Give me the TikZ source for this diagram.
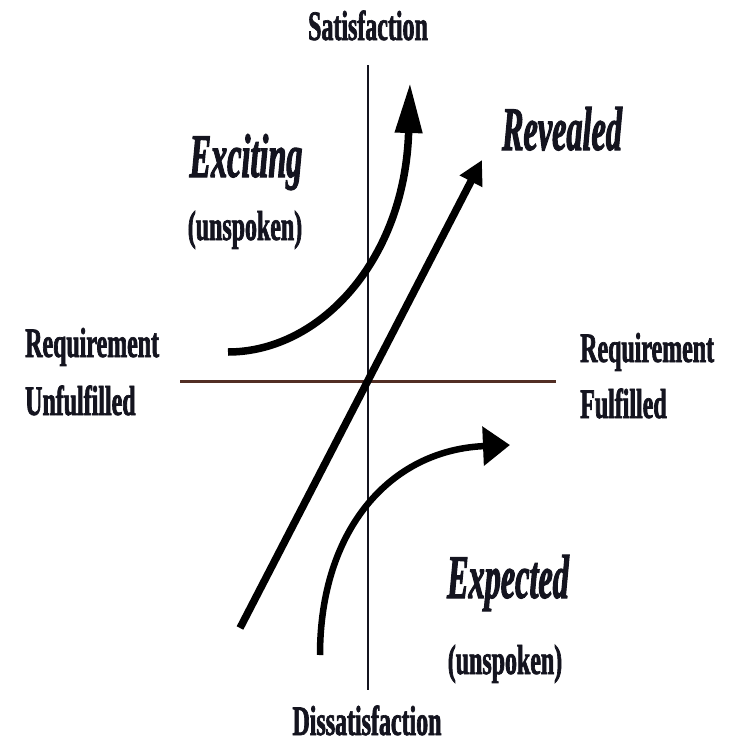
\documentclass[tikz,border=0pt]{standalone}
\usepackage{fontspec}
\usetikzlibrary{arrows.meta}
\newfontfamily\labfont[FakeStretch=0.57,FakeBold=1.6]{Liberation Serif}
\newfontfamily\catfont[FakeStretch=0.52,FakeBold=1.6]{Liberation Serif}
\definecolor{ink}{rgb}{0.08,0.08,0.12}
\definecolor{axisbrown}{rgb}{0.32,0.18,0.14}
\tikzset{
  lab/.style={inner sep=0pt, anchor=base, text=ink, font=\labfont\fontsize{42}{46}\selectfont\bfseries},
  cat/.style={inner sep=0pt, anchor=base, text=ink, font=\catfont\fontsize{62}{66}\selectfont\bfseries\itshape},
  curve/.style={line width=7.5pt, draw=black},
}
\begin{document}
\begin{tikzpicture}[x=1pt,y=-1pt]
\useasboundingbox (0,0) rectangle (729,744);
% axes
\coordinate (vtop) at (368,65);
\coordinate (vbot) at (368,690);
\coordinate (hleft) at (180,381);
\coordinate (hright) at (556,381);
\draw[line width=1.4pt, draw=ink] (vtop) -- (vbot);
\draw[line width=3pt, draw=axisbrown] (hleft) -- (hright);
% Revealed line
\coordinate (r0) at (240,628);
\coordinate (r1) at (482,160);
\draw[curve, -{Triangle[length=24pt,width=24pt]}] (r0) -- (r1);
% Exciting curve
\coordinate (e0) at (228,352);
\coordinate (e1) at (410,83);
\draw[curve, -{Triangle[length=50pt,width=26pt]}] (e0) .. controls (320,352) and (405,260) .. (e1);
% Expected curve
\coordinate (x0) at (320,655);
\coordinate (x1) at (510,445);
\draw[line width=6.5pt, -{Triangle[length=27pt,width=38pt]}] (x0) .. controls (320,530) and (390,450) .. (x1);
% labels
\node[lab] (sat) at (368,40) {Satisfaction};
\node[lab] (dis) at (367,735) {Dissatisfaction};
\node[lab, anchor=base west] (ru1) at (25,357) {Requirement};
\node[lab, anchor=base west] (ru2) at (25,415) {Unfulfilled};
\node[lab, anchor=base west] (rf1) at (580,362) {Requirement};
\node[lab, anchor=base west] (rf2) at (580,418) {Fulfilled};
\node[cat] (exc) at (246,177) {Exciting};
\node[lab] (unsp1) at (245,240) {(unspoken)};
\node[cat] (rev) at (562,150) {Revealed};
\node[cat] (exp) at (508,598) {Expected};
\node[lab] (unsp2) at (505,674) {(unspoken)};
\end{tikzpicture}
\end{document}
